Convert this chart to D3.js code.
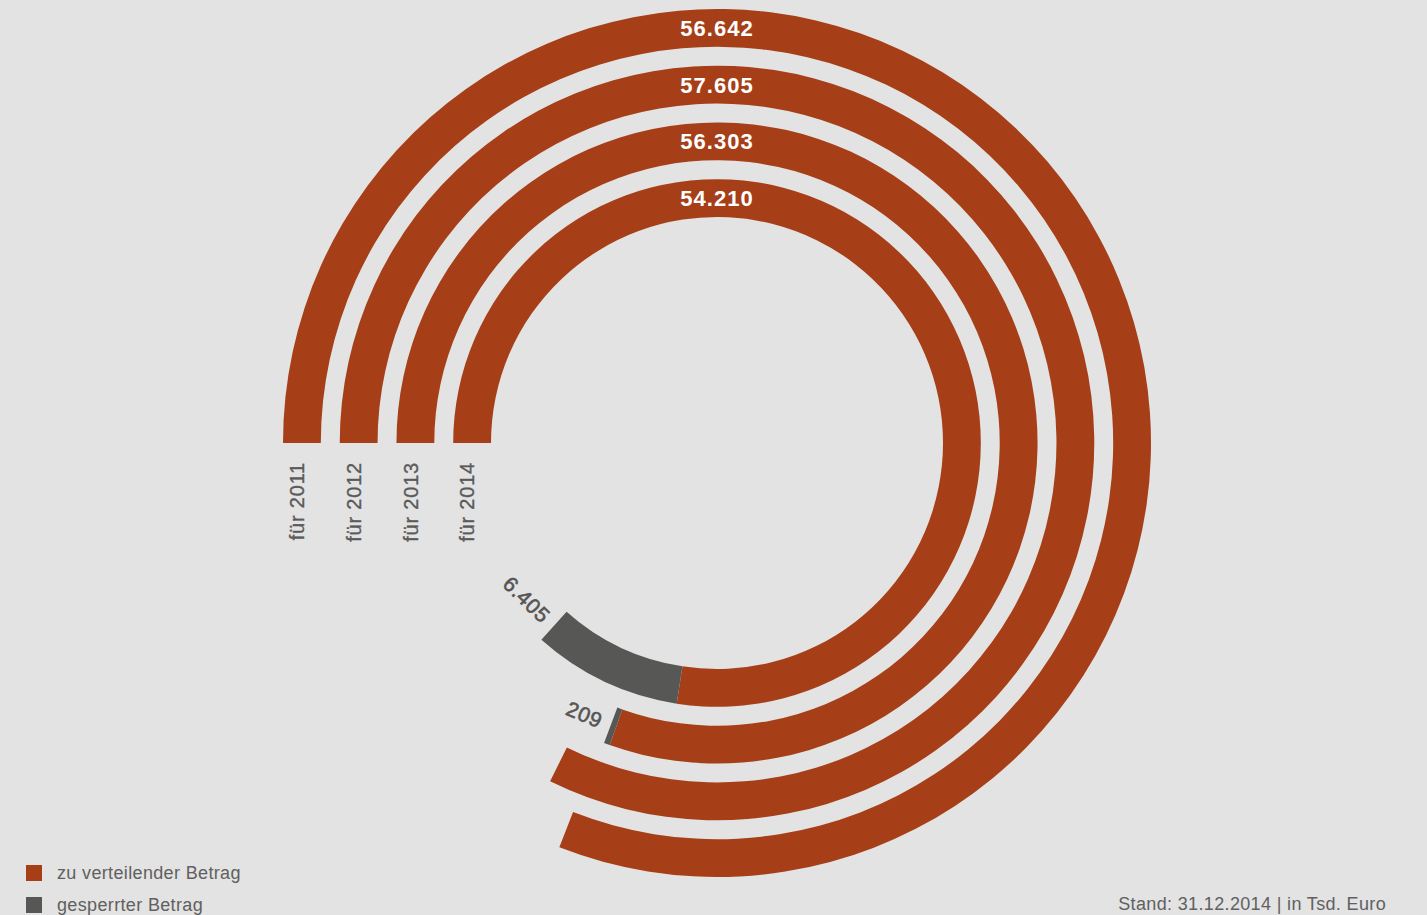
<!DOCTYPE html>
<html>
<head>
<meta charset="utf-8">
<script src="https://cdn.jsdelivr.net/npm/d3@7"></script>
<style>
  html, body { margin: 0; padding: 0; background: #e3e3e3; }
  svg { display: block; font-family: "Liberation Sans", Arial, sans-serif; }
  .value-label { fill: #fff; font-weight: bold; font-size: 22px; letter-spacing: 1px; }
  .year-label { fill: #5a5a5a; stroke: #5a5a5a; stroke-width: 0.35px; font-size: 20px; letter-spacing: 0.8px; }
  .blocked-label { fill: #555; stroke: #555; stroke-width: 0.6px; font-size: 21px; letter-spacing: 0.6px; }
  .legend text, .source { fill: #606060; font-size: 18px; letter-spacing: 0.35px; }
</style>
</head>
<body>
<svg id="chart"></svg>
<script>
// values in Tsd. Euro
const years = ['für 2011', 'für 2012', 'für 2013', 'für 2014'];
const distributed = [56642, 57605, 56303, 54210];
const blocked = [0, 0, 209, 6405];
const legendLabels = ['zu verteilender Betrag', 'gesperrter Betrag'];
const sourceNote = 'Stand: 31.12.2014 | in Tsd. Euro';

const W = 1427, H = 915;
const cx = 717, cy = 443;
const colors = ['#a63f17', '#575755'];

const de = d3.formatLocale({decimal: ',', thousands: '.', grouping: [3], currency: ['', ' €']});
const fmt = de.format(',.0f');

const svg = d3.select('#chart').attr('width', W).attr('height', H);
const g = svg.append('g').attr('transform', 'translate(' + cx + ',' + cy + ')');

// full circle = 70.000
const angle = d3.scaleLinear().domain([0, 70000]).range([0, 2 * Math.PI]);
const start = -Math.PI / 2;

// rings, outer = 2011
const radius = d3.scaleBand().domain(years).range([434, 226]).paddingInner(1 / 3);
const bw = radius.bandwidth();

const rows = years.map((y, i) => ({year: y, dist: distributed[i], blocked: blocked[i]}));

const arc = d3.arc();

rows.forEach((d) => {
  const r0 = radius(d.year), r1 = r0 + bw, rm = r0 + bw / 2;
  const a1 = start + angle(d.dist);
  const a2 = a1 + angle(d.blocked);

  g.append('path').attr('fill', colors[0])
    .attr('d', arc({innerRadius: r0, outerRadius: r1, startAngle: start, endAngle: a1}));

  if (d.blocked > 0) {
    g.append('path').attr('fill', colors[1])
      .attr('d', arc({innerRadius: r0, outerRadius: r1, startAngle: a1, endAngle: a2}));

    // label just past the end of the grey part
    const la = a2 + 10 / rm;
    const deg = la * 180 / Math.PI - 180;
    g.append('text').attr('class', 'blocked-label')
      .attr('text-anchor', 'end').attr('dy', '0.35em')
      .attr('transform', 'translate(' + (rm * Math.sin(la)) + ',' + (-rm * Math.cos(la)) + ') rotate(' + deg + ')')
      .text(fmt(d.blocked));
  }

  // value on top
  g.append('text').attr('class', 'value-label')
    .attr('text-anchor', 'middle').attr('dy', '0.36em')
    .attr('x', 0).attr('y', -rm)
    .text(fmt(d.dist));

  // year under the start
  g.append('text').attr('class', 'year-label')
    .attr('text-anchor', 'end').attr('dy', '0.12em')
    .attr('transform', 'translate(' + (-rm) + ',19) rotate(-90)')
    .text(d.year);
});

// legend
const legend = svg.append('g').attr('class', 'legend');
legendLabels.forEach((t, i) => {
  const row = legend.append('g').attr('transform', 'translate(26,' + (865 + i * 32) + ')');
  row.append('rect').attr('width', 16).attr('height', 16).attr('fill', colors[i]);
  row.append('text').attr('x', 31).attr('y', 14).text(t);
});

svg.append('text').attr('class', 'source')
  .attr('x', 1386).attr('y', 910).attr('text-anchor', 'end')
  .text(sourceNote);
</script>
</body>
</html>
